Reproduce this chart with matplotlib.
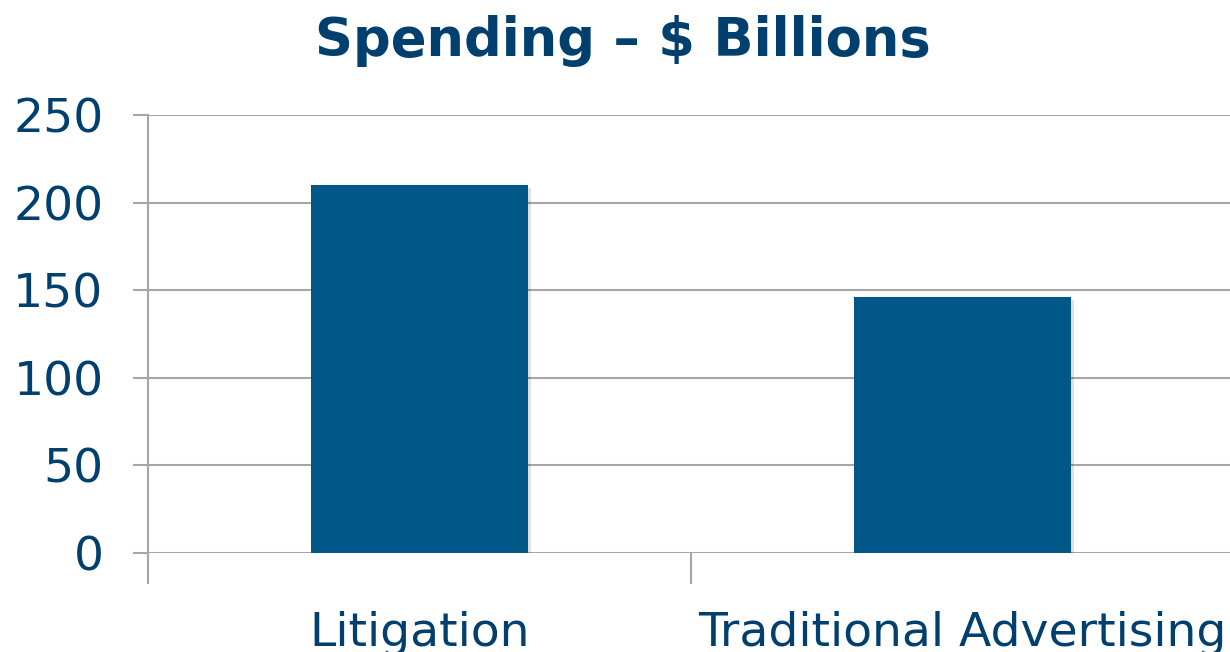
import matplotlib.pyplot as plt
import matplotlib.patheffects as pe

categories = ['Litigation', 'Traditional Advertising']
spending = [210, 146]
y_ticks = [0, 50, 100, 150, 200, 250]

text_color = '#003F6E'
bar_color = '#005788'
grid_color = '#A6A6A6'

plt.rcParams['font.family'] = ['DejaVu Sans']

fig = plt.figure(figsize=(12.3, 6.52), dpi=100)
ax = fig.add_axes([0.1203, 0.1518, 0.8832, 0.6718])

x = list(range(len(categories)))
bars = ax.bar(x, spending, width=0.4, color=bar_color, zorder=3)
for b in bars:
    b.set_path_effects([pe.SimplePatchShadow(offset=(2, -2), shadow_rgbFace='#000000', alpha=0.12),
                        pe.Normal()])

ax.set_xlim(-0.5, len(categories) - 0.5)
ax.set_ylim(0, 250)
ax.set_yticks(y_ticks)
ax.yaxis.grid(True, color=grid_color, linewidth=1.5, zorder=0)

ax.set_xticks(x)
ax.set_xticklabels(categories)
ax.set_xticks([-0.5, 0.5], minor=True)
ax.tick_params(axis='x', which='major', length=0, pad=42, labelsize=34, labelcolor=text_color)
ax.tick_params(axis='x', which='minor', length=22, width=1.5, color=grid_color, direction='out')
ax.tick_params(axis='y', length=11, width=1.5, color=grid_color, pad=21,
               labelsize=34, labelcolor=text_color)

for s in ['top', 'right', 'bottom']:
    ax.spines[s].set_visible(False)
ax.spines['left'].set_color(grid_color)
ax.spines['left'].set_linewidth(1.5)
ax.spines['left'].set_bounds(-16, 250)

fig.text(0.506, 0.937, 'Spending \u2013 $ Billions', ha='center', va='center',
         fontsize=38, fontweight='bold', color=text_color)

fig.savefig('out.png', dpi=100)
